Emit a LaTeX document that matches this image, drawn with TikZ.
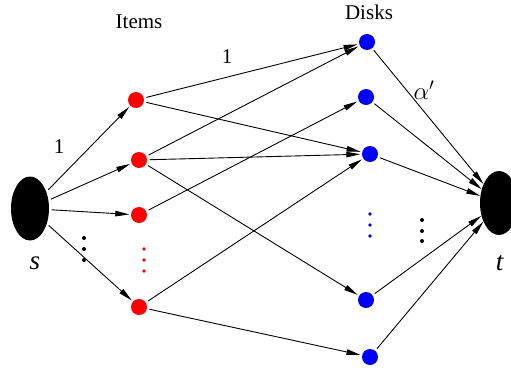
\documentclass[tikz,border=0pt]{standalone}
\usepackage{fontspec}
\setmainfont{Liberation Serif}
\usetikzlibrary{shapes.geometric,arrows.meta}
\begin{document}
\begin{tikzpicture}[x=1pt,y=-1pt,
  item/.style={circle,fill=red,inner sep=0pt,minimum size=16pt},
  disk/.style={circle,fill=blue,inner sep=0pt,minimum size=16pt},
  term/.style={ellipse,fill=black,inner sep=0pt,minimum width=38pt,minimum height=64pt},
  arc/.style={line width=0.9pt,-{Triangle[length=14pt,width=5.5pt]},shorten >=1.5pt,shorten <=2.5pt},
  arct/.style={line width=0.9pt,-{Triangle[length=14pt,width=5.5pt]},shorten <=2.5pt},
  lbl/.style={font=\fontsize{21}{24}\selectfont,inner sep=0pt},
  big/.style={font=\fontsize{27}{30}\selectfont,inner sep=0pt},
  bdot/.style={circle,fill=black,inner sep=0pt,minimum size=4pt},
  rdot/.style={circle,fill=red,inner sep=0pt,minimum size=3.6pt},
  ldot/.style={circle,fill=blue,inner sep=0pt,minimum size=3.6pt}]
\useasboundingbox (0,0) rectangle (511,372);
\begin{scope}
\clip (0,0) rectangle (511,372);
\node[term] (s) at (30,208.5) {};
\node[term] (t) at (499,203) {};
\end{scope}
\node[item] (r1) at (136,100) {};
\node[item] (r2) at (139,160) {};
\node[item] (r3) at (139,215) {};
\node[item] (r4) at (139,307) {};
\node[disk] (b1) at (367,42) {};
\node[disk] (b2) at (366,97) {};
\node[disk] (b3) at (370,154) {};
\node[disk] (b4) at (366,300) {};
\node[disk] (b5) at (370,357) {};
\node[lbl] (items) at (139,22) {Items};
\node[lbl] (disks) at (369,12) {Disks};
\node[big] (sl) at (35,263) {\textit{s}};
\node[big] (tl) at (500,263) {\textit{t}};
\node[bdot] (d1) at (84,238) {};
\node[bdot] (d2) at (84,249) {};
\node[bdot] (d3) at (84,260) {};
\node[rdot] (e1) at (144,249) {};
\node[rdot] (e2) at (144,260) {};
\node[rdot] (e3) at (144,271) {};
\node[ldot] (f1) at (370,214) {};
\node[ldot] (f2) at (370,225) {};
\node[ldot] (f3) at (370,236) {};
\node[bdot] (g1) at (422,220) {};
\node[bdot] (g2) at (422,231) {};
\node[bdot] (g3) at (422,241) {};
\draw[arc] (s) -- (r1);
\draw[arc] (s) -- (r2);
\draw[arc] (s) -- (r3);
\draw[arc] (s) -- (r4);
\draw[arc] (r1) -- (b1);
\draw[arc] (r1) -- (b3);
\draw[arc] (r2) -- (b1);
\draw[arc] (r2) -- (b3);
\draw[arc] (r2) -- (b4);
\draw[arc] (r3) -- (b2);
\draw[arc] (r4) -- (b3);
\draw[arc] (r4) -- (b5);
\draw[arct] (b1) -- (t);
\draw[arct] (b2) -- (t);
\draw[arct] (b3) -- (t);
\draw[arct] (b4) -- (t);
\draw[arct] (b5) -- (t);
\node[lbl] (one1) at (59,147) {1};
\node[lbl] (one2) at (227,57) {1};
\node[big] (al) at (424,90) {$\alpha'$};
\end{tikzpicture}
\end{document}
